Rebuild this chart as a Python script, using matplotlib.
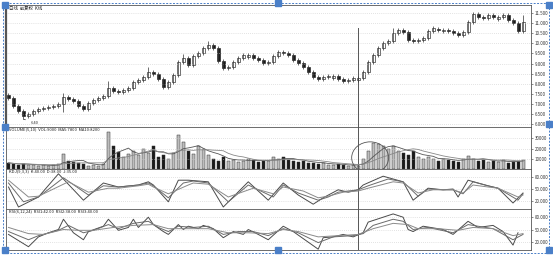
import matplotlib
matplotlib.use("Agg")
import matplotlib.pyplot as plt
from matplotlib.patches import Ellipse, Rectangle
from matplotlib.ticker import FuncFormatter
import numpy as np
import pandas as pd

plt.rcParams['font.family'] = ['Noto Sans CJK SC', 'DejaVu Sans']

# daily candles (104 sessions)
opens = [7.45, 7.29, 6.90, 6.65, 6.40, 6.50, 6.65, 6.75, 6.80, 6.85,
         6.90, 7.00, 7.34, 7.24, 7.14, 6.90, 6.75, 7.04, 7.19, 7.29,
         7.39, 7.79, 7.64, 7.59, 7.69, 7.79, 8.08, 8.18, 8.33, 8.58,
         8.48, 8.23, 7.84, 8.08, 8.43, 9.07, 9.27, 8.93, 9.37, 9.52,
         9.77, 9.92, 9.77, 9.12, 8.78, 8.83, 9.07, 9.27, 9.35, 9.42,
         9.27, 9.17, 9.02, 9.07, 9.37, 9.57, 9.52, 9.42, 9.17, 9.02,
         8.83, 8.58, 8.33, 8.23, 8.33, 8.30, 8.38, 8.23, 8.13, 8.18,
         8.20, 8.28, 8.58, 9.07, 9.42, 9.77, 10.01, 10.11, 10.51, 10.66,
         10.56, 10.16, 10.11, 10.16, 10.26, 10.61, 10.72, 10.60, 10.66, 10.61,
         10.51, 10.41, 10.56, 11.05, 11.45, 11.30, 11.25, 11.40, 11.22, 11.30,
         11.40, 11.15, 11.00, 10.61]
closes = [7.29, 6.90, 6.65, 6.40, 6.50, 6.65, 6.75, 6.80, 6.85, 6.90,
          7.00, 7.34, 7.24, 7.14, 6.90, 6.75, 7.04, 7.19, 7.29, 7.39,
          7.79, 7.64, 7.59, 7.69, 7.79, 8.08, 8.18, 8.33, 8.58, 8.48,
          8.23, 7.84, 8.08, 8.43, 9.07, 9.27, 8.93, 9.37, 9.52, 9.77,
          9.92, 9.77, 9.12, 8.78, 8.83, 9.07, 9.27, 9.42, 9.42, 9.27,
          9.17, 9.02, 9.07, 9.37, 9.57, 9.52, 9.42, 9.17, 9.02, 8.83,
          8.58, 8.33, 8.23, 8.33, 8.38, 8.38, 8.23, 8.13, 8.18, 8.28,
          8.28, 8.58, 9.07, 9.42, 9.77, 10.01, 10.11, 10.51, 10.66, 10.56,
          10.16, 10.11, 10.16, 10.26, 10.61, 10.76, 10.66, 10.66, 10.61, 10.51,
          10.41, 10.56, 11.05, 11.45, 11.30, 11.25, 11.40, 11.30, 11.30, 11.40,
          11.15, 11.00, 10.61, 11.05]
highs = [7.55, 7.39, 7.00, 6.75, 6.60, 6.75, 6.85, 6.90, 6.95, 7.00,
         7.10, 7.55, 7.44, 7.34, 7.24, 7.00, 7.14, 7.29, 7.39, 7.49,
         8.13, 7.89, 7.74, 7.79, 7.89, 8.18, 8.28, 8.43, 8.85, 8.68,
         8.58, 8.33, 8.18, 8.53, 9.17, 9.45, 9.37, 9.47, 9.62, 9.87,
         10.10, 10.02, 9.87, 9.22, 8.93, 9.17, 9.37, 9.52, 9.52, 9.52,
         9.37, 9.27, 9.17, 9.47, 9.67, 9.67, 9.62, 9.52, 9.27, 9.12,
         8.93, 8.68, 8.43, 8.43, 8.48, 8.48, 8.48, 8.33, 8.28, 8.38,
         8.38, 8.68, 9.17, 9.52, 9.87, 10.11, 10.21, 10.76, 10.76, 10.76,
         10.66, 10.26, 10.26, 10.36, 10.71, 10.86, 10.82, 10.76, 10.76, 10.71,
         10.61, 10.66, 11.15, 11.55, 11.55, 11.40, 11.50, 11.50, 11.40, 11.50,
         11.50, 11.25, 11.10, 11.40]
lows = [7.19, 6.80, 6.55, 6.25, 6.30, 6.40, 6.55, 6.65, 6.70, 6.75,
        6.80, 6.60, 7.14, 7.04, 6.80, 6.65, 6.65, 6.94, 7.09, 7.19,
        7.29, 7.54, 7.49, 7.49, 7.59, 7.69, 7.98, 8.08, 8.23, 8.38,
        8.13, 7.74, 7.74, 7.98, 8.33, 8.97, 8.83, 8.83, 9.27, 9.42,
        9.67, 9.67, 9.02, 8.68, 8.68, 8.73, 8.97, 9.17, 9.25, 9.17,
        9.07, 8.92, 8.92, 8.97, 9.27, 9.42, 9.32, 9.07, 8.92, 8.73,
        8.48, 8.23, 8.13, 8.13, 8.23, 8.20, 8.13, 8.03, 8.03, 8.08,
        8.10, 8.18, 8.48, 8.97, 9.32, 9.67, 9.91, 10.01, 10.41, 10.46,
        10.06, 10.01, 10.01, 10.06, 10.16, 10.51, 10.56, 10.50, 10.51, 10.41,
        10.31, 10.31, 10.46, 10.95, 11.20, 11.15, 11.15, 11.20, 11.12, 11.20,
        11.05, 10.90, 10.51, 10.51]
volume = [6, 5, 4, 5, 4, 4, 3, 4, 3, 4, 5, 15, 8, 7, 6, 5, 3, 4, 3, 5,
          36, 22, 17, 12, 15, 18, 14, 20, 16, 22, 12, 14, 10, 16, 33, 26, 18, 15, 22, 20,
          14, 10, 8, 12, 8, 9, 7, 8, 10, 9, 7, 8, 8, 12, 10, 12, 9, 8, 7, 8,
          6, 6, 5, 6, 4, 4, 5, 4, 3, 4, 3, 10, 18, 25, 24, 22, 20, 22, 18, 16,
          14, 18, 12, 10, 12, 10, 8, 10, 9, 8, 7, 10, 13, 10, 8, 9, 7, 8, 7, 9,
          6, 7, 8, 9]  # thousand lots

# first oscillator panel (three lines)
k_days = [0, 2, 6, 10, 15, 19, 22, 26, 28, 29, 32, 34, 36, 40, 43, 48, 52, 55, 58, 61,
          63, 66, 68, 70, 71, 75, 79, 81, 84, 87, 89, 90, 92, 96, 98, 101, 103]
k_vals = [55, 5, 30, 88, 22, 65, 55, 60, 68, 60, 18, 72, 72, 68, 5, 68, 22, 65, 35, 12,
          28, 48, 42, 48, 60, 82, 68, 22, 52, 48, 50, 30, 72, 58, 52, 15, 40]
d_days = [0, 3, 6, 11, 16, 19, 22, 26, 28, 29, 32, 35, 37, 40, 44, 48, 53, 55, 58, 62,
          64, 66, 70, 72, 76, 79, 82, 84, 87, 89, 91, 93, 96, 98, 102, 103]
d_vals = [65, 18, 30, 78, 35, 58, 55, 60, 65, 58, 28, 65, 70, 65, 18, 60, 30, 60, 40, 22,
          30, 42, 48, 58, 75, 68, 32, 50, 48, 48, 38, 68, 58, 52, 22, 38]
j_days = [0, 4, 6, 12, 16, 20, 22, 26, 28, 29, 32, 36, 37, 40, 44, 49, 53, 55, 59, 62,
          64, 67, 70, 72, 77, 79, 82, 85, 87, 89, 91, 93, 96, 98, 102, 103]
j_vals = [72, 30, 32, 68, 42, 52, 52, 58, 62, 55, 38, 60, 65, 62, 30, 52, 38, 55, 45, 28,
          32, 42, 45, 52, 68, 65, 40, 48, 48, 48, 40, 60, 55, 52, 30, 35]

# second oscillator panel (three lines)
r1_days = [0, 4, 6, 8, 10, 11, 13, 15, 16, 19, 20, 22, 24, 25, 26, 28, 29, 31, 32, 34,
           35, 36, 38, 39, 41, 43, 45, 47, 48, 50, 52, 55, 57, 62, 63, 65, 67, 69, 71, 72,
           77, 79, 80, 81, 83, 87, 89, 92, 94, 97, 99, 101, 102]
r1_vals = [38, 8, 32, 42, 50, 75, 42, 25, 45, 58, 75, 48, 55, 75, 55, 80, 62, 45, 38, 62,
           50, 58, 52, 60, 52, 30, 45, 38, 50, 38, 25, 58, 45, 2, 30, 32, 38, 32, 42, 68,
           88, 80, 50, 45, 58, 50, 38, 70, 55, 60, 45, 12, 42]
r2_days = [0, 4, 6, 10, 12, 15, 17, 20, 22, 25, 28, 30, 32, 34, 37, 40, 43, 46, 49, 52,
           55, 58, 62, 65, 69, 71, 73, 77, 79, 81, 84, 89, 92, 97, 101, 103]
r2_vals = [45, 25, 35, 48, 60, 42, 48, 62, 52, 65, 70, 55, 45, 58, 55, 58, 38, 45, 45, 35,
           52, 42, 18, 32, 35, 40, 60, 75, 70, 50, 55, 42, 62, 52, 25, 38]
r3_days = [0, 4, 7, 11, 14, 17, 21, 25, 29, 32, 36, 40, 44, 48, 52, 55, 58, 62, 66, 70,
           73, 77, 80, 82, 86, 90, 93, 97, 101, 103]
r3_vals = [55, 40, 38, 50, 48, 48, 55, 60, 62, 52, 52, 52, 42, 42, 40, 50, 45, 32, 35, 38,
           52, 65, 62, 52, 52, 48, 55, 52, 35, 40]

price_ticks = [6.0, 6.5, 7.0, 7.5, 8.0, 8.5, 9.0, 9.5, 10.0, 10.5, 11.0, 11.5]
mark_day = 70

days = np.arange(len(closes))
o = np.array(opens)
c = np.array(closes)
up = c >= o

W, H = 553, 256
left, right = 6 / W, 525 / W
fig = plt.figure(figsize=(W / 100, H / 100), dpi=100)
ax_k = fig.add_axes([left, 1 - 127 / H, right, 122 / H])
ax_v = fig.add_axes([left, 1 - 169 / H, right, 42 / H], sharex=ax_k)
ax_1 = fig.add_axes([left, 1 - 209 / H, right, 40 / H], sharex=ax_k)
ax_2 = fig.add_axes([left, 1 - 250 / H, right, 41 / H], sharex=ax_k)

line_c = '#444444'
for ax in (ax_k, ax_v, ax_1, ax_2):
    ax.yaxis.tick_right()
    ax.tick_params(axis='y', labelsize=3.2, length=1.5, width=0.4, pad=1,
                   colors='#333333')
    ax.tick_params(axis='x', bottom=False, labelbottom=False)
    for s in ax.spines.values():
        s.set_linewidth(0.6)
        s.set_color('#555555')
    ax.grid(axis='y', color='#c8c8c8', ls=(0, (1, 2)), lw=0.5)
    ax.axvline(mark_day, color='#555555', lw=0.7,
               ymax=0.81 if ax is ax_k else 1)
ax_k.spines['left'].set_linewidth(1.6)

# candles
body_col = np.where(up, 'white', '#1a1a1a')
ax_k.vlines(days, lows, highs, color='#333333', lw=0.5)
ax_k.bar(days, np.maximum(np.abs(c - o), 0.03), bottom=np.minimum(o, c),
         width=0.6, color=body_col, edgecolor='#222222', linewidth=0.45)
ax_k.set_ylim(5.86, 11.90)
ax_k.set_yticks(price_ticks)
ax_k.yaxis.set_major_formatter(FuncFormatter(lambda v, p: '%.3f' % v))
ax_k.set_xlim(-0.5, 104.6)
ax_k.text(0.005, 0.995, '日线  前复权  K线', transform=ax_k.transAxes,
          fontsize=3.2, va='top', color='#222222')
ax_k.annotate('6.40', xy=(3, 6.25), xytext=(4.5, 6.0), fontsize=3,
              color='#333333', arrowprops=dict(arrowstyle='-', lw=0.4))

# volume with its moving averages
vol = pd.Series(volume, dtype=float)
ax_v.bar(days, vol, width=0.6, color=np.where(up, '#bdbdbd', '#1a1a1a'),
         edgecolor='#333333', linewidth=0.35)
ax_v.plot(days, vol.rolling(5, min_periods=1).mean(), color='#555555', lw=0.6)
ax_v.plot(days, vol.rolling(10, min_periods=1).mean(), color='#888888', lw=0.6)
ax_v.set_ylim(0, 41)
ax_v.set_yticks([10, 20, 30])
ax_v.yaxis.set_major_formatter(FuncFormatter(lambda v, p: '%d' % (v * 1000)))
ax_v.text(0.005, 0.99, 'VOLUME(5,10)  VOL:9000  MA5:7800  MA10:8200',
          transform=ax_v.transAxes, fontsize=3, va='top', color='#222222')
ax_v.add_patch(Ellipse((72.4, 11), 7.4, 31, fill=False, ec='#555555',
                       lw=0.6, clip_on=False, zorder=5))

# oscillators
for ax, series, name in (
        (ax_1, ((k_days, k_vals), (d_days, d_vals), (j_days, j_vals)),
         'KDJ(9,3,3)  K:40.00  D:38.00  J:35.00'),
        (ax_2, ((r1_days, r1_vals), (r2_days, r2_vals), (r3_days, r3_vals)),
         'RSI(6,12,24)  RSI1:42.00  RSI2:38.00  RSI3:40.00')):
    for (dd, vv), col in zip(series, ('#4a4a4a', '#6a6a6a', '#8a8a8a')):
        ax.plot(dd, vv, color=col, lw=0.7)
    ax.set_ylim(0, 100)
    ax.set_yticks([20, 50, 80])
    ax.yaxis.set_major_formatter(FuncFormatter(lambda v, p: '%.3f' % v))
    ax.text(0.005, 0.99, name, transform=ax.transAxes, fontsize=3,
            va='top', color='#222222')

# selection frame of the pasted picture
blue = '#4a7fc8'
fig.add_artist(Rectangle((3 / W, 3 / H), 546 / W, 250 / H, fill=False,
                         ec=blue, lw=0.7, ls=(0, (2, 1.5)),
                         transform=fig.transFigure))
for hx, hy in [(5, 5), (278, 3), (549, 5), (5, 127), (549, 124),
               (5, 250), (278, 250), (549, 250)]:
    fig.add_artist(Rectangle(((hx - 3) / W, 1 - (hy + 3) / H), 6 / W, 6 / H,
                             color=blue, transform=fig.transFigure))

fig.savefig('out.png', dpi=100)
